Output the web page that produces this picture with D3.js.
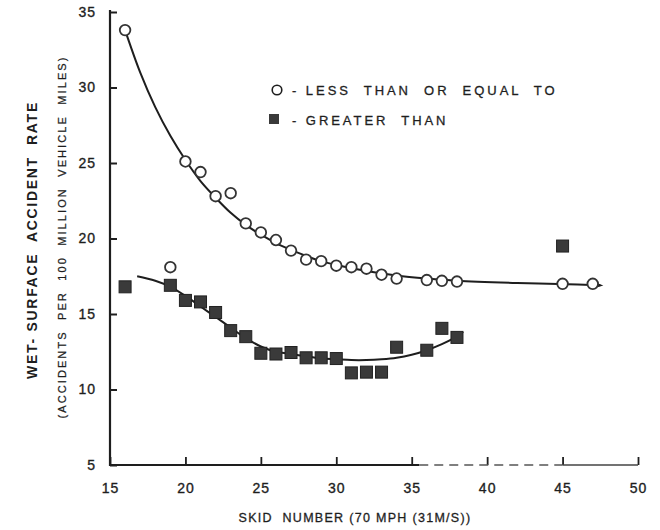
<!DOCTYPE html>
<html><head><meta charset="utf-8">
<script src="https://cdn.jsdelivr.net/npm/d3@7"></script>
<style>
html,body{margin:0;padding:0;background:#fff;}
text{font-family:"Liberation Sans","DejaVu Sans",Arial,sans-serif;fill:#1e1e1e;white-space:pre;}
</style></head>
<body><svg id="c" width="660" height="530"></svg>
<script>
// ---- data ----
const lessX = [16,19,20,21,22,23,24,25,26,27,28,29,30,31,32,33,34,36,37,38,45,47];
const lessY = [33.8,18.1,25.1,24.4,22.8,23.0,21.0,20.4,19.9,19.2,18.6,18.5,18.2,18.1,18.0,17.6,17.35,17.25,17.2,17.15,17.0,17.0];
const greaterX = [16,19,20,21,22,23,24,25,26,27,28,29,30,31,32,33,34,36,37,38,45];
const greaterY = [16.8,16.9,15.9,15.8,15.1,13.9,13.5,12.4,12.35,12.45,12.1,12.1,12.05,11.1,11.15,11.15,12.8,12.6,14.05,13.45,19.5];
// hand-drawn fitted curves
const lessCurveX = [16,17,18,19,20,21,22,23,24,25,26,27,28,29,30,32,34,36,38,42,46,47.5];
const lessCurveY = [33.8,31.0,28.7,26.8,25.2,23.8,22.7,21.7,20.9,20.25,19.7,19.25,18.85,18.5,18.25,17.85,17.55,17.35,17.2,17.05,16.95,16.9];
const greaterCurveX = [16.8,18,19,20,21,22,23,24,25,26,27,28,29,30,31,32,33,34,35,36,37,37.8,38.3];
const greaterCurveY = [17.5,17.2,16.8,16.2,15.5,14.8,14.1,13.4,12.85,12.5,12.35,12.2,12.05,12.0,11.95,11.95,12.0,12.1,12.3,12.6,13.0,13.4,13.7];
const xTicks = [15,20,25,30,35,40,45,50];
const yTicks = [5,10,15,20,25,30,35];
const legendLabels = ["- LESS  THAN  OR  EQUAL  TO", "- GREATER  THAN"];
const xTitle = "SKID  NUMBER (70 MPH (31M/S))";
const yTitle = "WET- SURFACE  ACCIDENT  RATE";
const ySubtitle = "(ACCIDENTS  PER  100  MILLION  VEHICLE  MILES)";

const svg = d3.select("#c");
const ink = "#1e1e1e";
const x = d3.scaleLinear().domain([15,50]).range([110,638]);
const y = d3.scaleLinear().domain([5,35]).range([465,12]);

// y axis
const yAxis = d3.axisLeft(y).tickValues(yTicks).tickSize(-7).tickSizeOuter(0).tickPadding(14);
const gy = svg.append("g").attr("transform","translate(110,0)").call(yAxis);
gy.select(".domain").remove();
gy.selectAll(".tick line").attr("stroke",ink).attr("stroke-width",2);
gy.selectAll(".tick text").style("font-size","14px").style("letter-spacing","1px")
  .attr("fill",ink).attr("stroke",ink).attr("stroke-width",0.35);
svg.append("line").attr("x1",110).attr("x2",110).attr("y1",y(35)-2).attr("y2",y(5)+1)
  .attr("stroke",ink).attr("stroke-width",2.2);

// x axis
const xAxis = d3.axisBottom(x).tickValues(xTicks).tickSize(-8).tickSizeOuter(0).tickPadding(18);
const gx = svg.append("g").attr("transform","translate(0,465)").call(xAxis);
gx.select(".domain").remove();
gx.selectAll(".tick line").attr("stroke",ink).attr("stroke-width",1.8);
gx.selectAll(".tick text").style("font-size","14px").style("letter-spacing","1px")
  .attr("fill",ink).attr("stroke",ink).attr("stroke-width",0.35);
// axis baseline (scan shows a broken line beyond 35)
svg.append("line").attr("x1",x(15)).attr("x2",x(35.5)).attr("y1",465).attr("y2",465)
  .attr("stroke",ink).attr("stroke-width",2.2);
svg.append("line").attr("x1",x(35.5)).attr("x2",x(45)).attr("y1",465).attr("y2",465)
  .attr("stroke","#555").attr("stroke-width",1.3).attr("stroke-dasharray","9,6");
svg.append("line").attr("x1",x(45)).attr("x2",x(50)).attr("y1",465).attr("y2",465)
  .attr("stroke","#444").attr("stroke-width",1.4);

// titles
svg.append("text").attr("x",355).attr("y",522).attr("text-anchor","middle")
  .style("font-size","12.5px").style("letter-spacing","1.3px")
  .attr("stroke",ink).attr("stroke-width",0.3).text(xTitle);
svg.append("text").attr("transform","translate(37,240) rotate(-90)").attr("text-anchor","middle")
  .style("font-size","14px").style("font-weight","bold").style("letter-spacing","1.7px").text(yTitle);
svg.append("text").attr("transform","translate(66,237) rotate(-90)").attr("text-anchor","middle")
  .style("font-size","11px").style("letter-spacing","2.1px")
  .attr("stroke",ink).attr("stroke-width",0.25).text(ySubtitle);

// curves
const line = d3.line().curve(d3.curveCatmullRom.alpha(0.5));
function curve(xs, ys){
  svg.append("path").attr("d", line(xs.map((v,i)=>[x(v), y(ys[i])])))
    .attr("fill","none").attr("stroke",ink).attr("stroke-width",2);
  const n = xs.length;
  const x1 = x(xs[n-2]), y1 = y(ys[n-2]), x2 = x(xs[n-1]), y2 = y(ys[n-1]);
  const a = Math.atan2(y2-y1, x2-x1);
  const L = 7, W = 3.5;
  const p = [[x2+Math.cos(a)*3, y2+Math.sin(a)*3],
    [x2-Math.cos(a)*L+Math.sin(a)*W, y2-Math.sin(a)*L-Math.cos(a)*W],
    [x2-Math.cos(a)*L-Math.sin(a)*W, y2-Math.sin(a)*L+Math.cos(a)*W]];
  svg.append("path").attr("d","M"+p.join("L")+"Z").attr("fill",ink);
}
curve(lessCurveX, lessCurveY);
curve(greaterCurveX, greaterCurveY);

// points
svg.append("g").selectAll("circle").data(lessX).join("circle")
  .attr("cx",d=>x(d)).attr("cy",(d,i)=>y(lessY[i])).attr("r",5.3)
  .attr("fill","#fff").attr("stroke","#333").attr("stroke-width",1.8);
svg.append("g").selectAll("rect").data(greaterX).join("rect")
  .attr("x",d=>x(d)-6).attr("y",(d,i)=>y(greaterY[i])-6).attr("width",12).attr("height",12)
  .attr("fill","#3a3a3a").attr("stroke","#222").attr("stroke-width",1);

// legend
const lg = svg.append("g");
lg.append("circle").attr("cx",277).attr("cy",90).attr("r",4.8).attr("fill","none")
  .attr("stroke",ink).attr("stroke-width",1.6);
lg.append("rect").attr("x",269).attr("y",114).attr("width",10).attr("height",10).attr("fill","#3a3a3a");
lg.selectAll("text").data(legendLabels).join("text")
  .attr("x",292).attr("y",(d,i)=>95+i*29.5)
  .style("font-size","13px").style("letter-spacing","2.95px")
  .attr("stroke",ink).attr("stroke-width",0.3).text(d=>d);
</script></body></html>
